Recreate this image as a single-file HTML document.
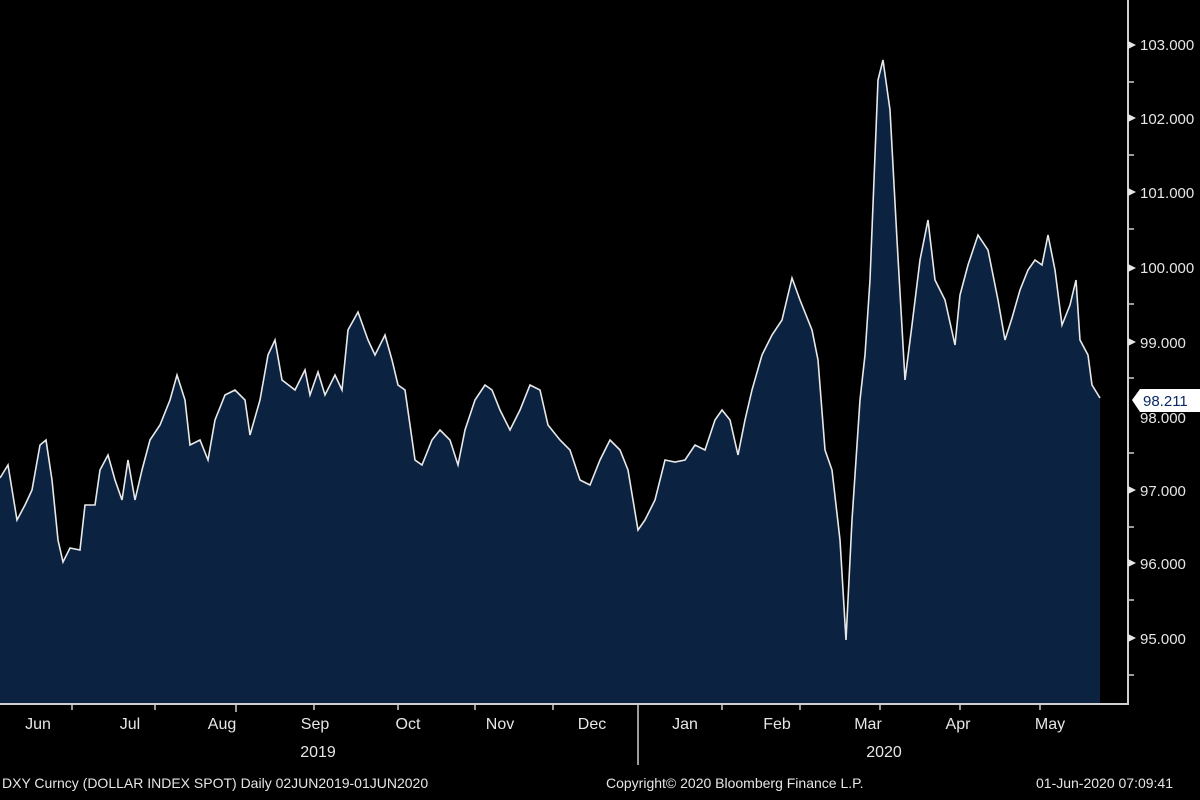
<!DOCTYPE html>
<html><head><meta charset="utf-8"><style>
html,body{margin:0;padding:0;background:#000;}
svg{display:block;}
text{font-family:"Liberation Sans",sans-serif;fill:#e6e6e6;}
</style></head><body>
<svg width="1200" height="800" viewBox="0 0 1200 800">
<rect width="1200" height="800" fill="#000"/>
<polygon fill="#0b2240" points="0,703 0,478 8,465 17,520 25,505 32,490 40,445 46,440 52,480 58,540 63,562 70,548 80,550 85,505 95,505 100,470 108,455 115,480 122,500 128,460 135,500 142,470 150,440 160,425 170,400 177,375 185,400 190,445 200,440 208,460 215,420 225,395 235,390 245,400 250,435 260,400 268,355 275,340 282,380 295,390 305,370 310,395 318,372 325,395 335,375 342,390 348,330 358,312 368,340 375,355 385,335 392,360 398,385 405,390 415,460 422,465 432,440 440,430 450,440 458,465 465,430 475,400 485,385 492,390 500,410 510,430 520,410 530,385 540,390 548,425 560,440 570,450 580,480 590,485 600,460 610,440 620,450 628,470 638,530 645,520 655,500 665,460 675,462 685,460 695,445 705,450 715,420 722,410 730,420 738,455 745,420 752,390 762,355 772,335 782,320 792,278 800,300 812,330 818,360 825,450 832,470 840,540 846,640 852,520 860,400 865,355 870,280 878,80 883,60 890,110 897,240 905,380 912,325 920,260 928,220 935,280 945,300 955,345 960,295 968,265 978,235 988,250 998,300 1005,340 1012,318 1020,290 1028,270 1035,260 1042,265 1048,235 1055,270 1062,325 1070,305 1076,280 1080,340 1088,355 1092,385 1100,398 1100,703"/>
<polyline fill="none" stroke="#e8e8e8" stroke-width="1.6" points="0,478 8,465 17,520 25,505 32,490 40,445 46,440 52,480 58,540 63,562 70,548 80,550 85,505 95,505 100,470 108,455 115,480 122,500 128,460 135,500 142,470 150,440 160,425 170,400 177,375 185,400 190,445 200,440 208,460 215,420 225,395 235,390 245,400 250,435 260,400 268,355 275,340 282,380 295,390 305,370 310,395 318,372 325,395 335,375 342,390 348,330 358,312 368,340 375,355 385,335 392,360 398,385 405,390 415,460 422,465 432,440 440,430 450,440 458,465 465,430 475,400 485,385 492,390 500,410 510,430 520,410 530,385 540,390 548,425 560,440 570,450 580,480 590,485 600,460 610,440 620,450 628,470 638,530 645,520 655,500 665,460 675,462 685,460 695,445 705,450 715,420 722,410 730,420 738,455 745,420 752,390 762,355 772,335 782,320 792,278 800,300 812,330 818,360 825,450 832,470 840,540 846,640 852,520 860,400 865,355 870,280 878,80 883,60 890,110 897,240 905,380 912,325 920,260 928,220 935,280 945,300 955,345 960,295 968,265 978,235 988,250 998,300 1005,340 1012,318 1020,290 1028,270 1035,260 1042,265 1048,235 1055,270 1062,325 1070,305 1076,280 1080,340 1088,355 1092,385 1100,398"/>
<!-- axes -->
<line x1="0" y1="704" x2="1128" y2="704" stroke="#cfcfcf" stroke-width="2"/>
<line x1="1128" y1="0" x2="1128" y2="705" stroke="#cfcfcf" stroke-width="2"/>
<g stroke="#cfcfcf" stroke-width="1.5">
<line x1="72" y1="704" x2="72" y2="710"/><line x1="155" y1="704" x2="155" y2="710"/><line x1="236" y1="704" x2="236" y2="712"/><line x1="314" y1="704" x2="314" y2="710"/><line x1="398" y1="704" x2="398" y2="710"/><line x1="475" y1="704" x2="475" y2="710"/><line x1="553" y1="704" x2="553" y2="710"/><line x1="638" y1="704" x2="638" y2="765"/><line x1="722" y1="704" x2="722" y2="710"/><line x1="800" y1="704" x2="800" y2="710"/><line x1="880" y1="704" x2="880" y2="710"/><line x1="960" y1="704" x2="960" y2="710"/><line x1="1040" y1="704" x2="1040" y2="710"/>
<line x1="1128" y1="82" x2="1134" y2="82"/><line x1="1128" y1="155" x2="1134" y2="155"/><line x1="1128" y1="229" x2="1134" y2="229"/><line x1="1128" y1="304" x2="1134" y2="304"/><line x1="1128" y1="378" x2="1134" y2="378"/><line x1="1128" y1="453" x2="1134" y2="453"/><line x1="1128" y1="527" x2="1134" y2="527"/><line x1="1128" y1="600" x2="1134" y2="600"/><line x1="1128" y1="675" x2="1134" y2="675"/>
</g>
<g fill="#e6e6e6">
<polygon points="1128,41 1136,45 1128,49"/><polygon points="1128,114 1136,118 1128,122"/><polygon points="1128,188 1136,192 1128,196"/><polygon points="1128,264 1136,268 1128,272"/><polygon points="1128,338 1136,342 1128,346"/><polygon points="1128,486 1136,490 1128,494"/><polygon points="1128,559 1136,563 1128,567"/><polygon points="1128,634 1136,638 1128,642"/>
</g>
<g font-size="15">
<text x="1140" y="50">103.000</text><text x="1140" y="124">102.000</text><text x="1140" y="198">101.000</text><text x="1140" y="273">100.000</text><text x="1140" y="348">99.000</text><text x="1140" y="423">98.000</text><text x="1140" y="496">97.000</text><text x="1140" y="569">96.000</text><text x="1140" y="644">95.000</text>
</g>
<polygon points="1132,400 1140,389 1200,389 1200,412 1140,412" fill="#fff"/>
<text x="1143" y="406" font-size="15" style="fill:#0a2a66">98.211</text>
<g font-size="16" text-anchor="middle">
<text x="38" y="729">Jun</text><text x="130" y="729">Jul</text><text x="222" y="729">Aug</text><text x="315" y="729">Sep</text><text x="408" y="729">Oct</text><text x="500" y="729">Nov</text><text x="592" y="729">Dec</text><text x="685" y="729">Jan</text><text x="777" y="729">Feb</text><text x="868" y="729">Mar</text><text x="958" y="729">Apr</text><text x="1050" y="729">May</text>
<text x="318" y="757">2019</text><text x="884" y="757">2020</text>
</g>
<g font-size="14">
<text x="2" y="788">DXY Curncy (DOLLAR INDEX SPOT)  Daily 02JUN2019-01JUN2020</text>
<text x="606" y="788">Copyright© 2020 Bloomberg Finance L.P.</text>
<text x="1036" y="788">01-Jun-2020 07:09:41</text>
</g>
</svg>
</body></html>
